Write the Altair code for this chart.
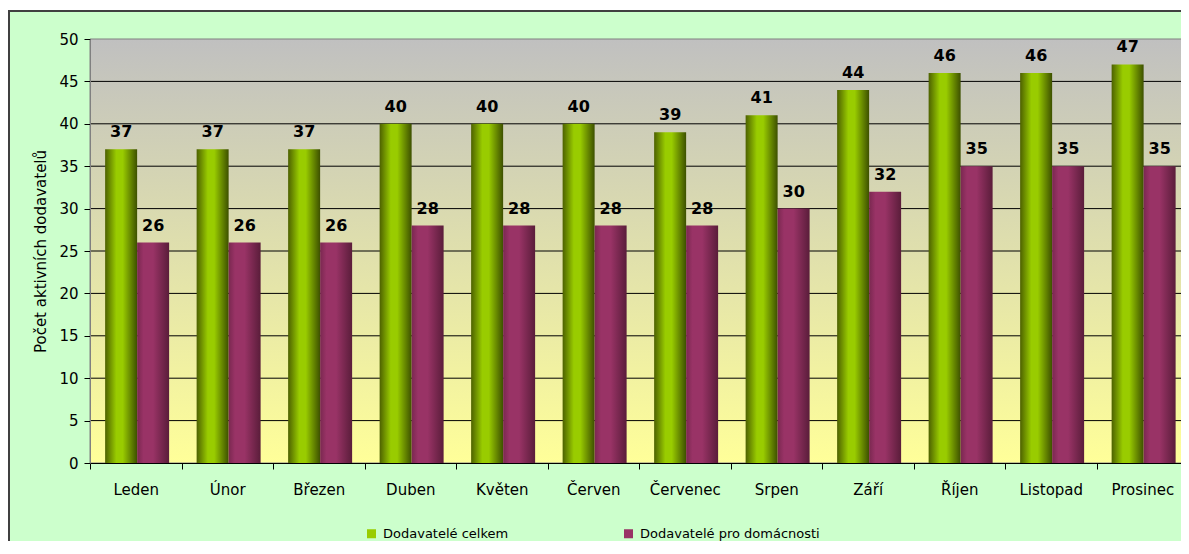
import altair as alt
import pandas as pd

months = ["Leden", "Únor", "Březen", "Duben", "Květen", "Červen",
          "Červenec", "Srpen", "Září", "Říjen", "Listopad", "Prosinec"]
celkem = [37, 37, 37, 40, 40, 40, 39, 41, 44, 46, 46, 47]
domacnosti = [26, 26, 26, 28, 28, 28, 28, 30, 32, 35, 35, 35]
series = ["Dodavatelé celkem", "Dodavatelé pro domácnosti"]
y_ticks = [0, 5, 10, 15, 20, 25, 30, 35, 40, 45, 50]
grid_vals = [5, 10, 15, 20, 25, 30, 35, 40, 45]

W, H = 1091, 424      # visible plot width (page cuts it off at the right)
XR = 1098             # full band range, extends slightly past the visible edge
FONT = "DejaVu Sans"

rows = []
for m, a, b in zip(months, celkem, domacnosti):
    rows.append({"month": m, "series": series[0], "value": a})
    rows.append({"month": m, "series": series[1], "value": b})
df = pd.DataFrame(rows)

x_enc = alt.X("month:N", sort=months,
              scale=alt.Scale(domain=months, paddingInner=0, paddingOuter=0, range=[0, XR]),
              axis=alt.Axis(title=None, tickBand="extent", labelFontSize=15, labelFont=FONT,
                            labelColor="#000000", labelPadding=13, tickSize=6, tickColor="#000000",
                            domainColor="#000000", labelAngle=0, grid=False, zindex=2))
xo_enc = alt.XOffset("series:N", scale=alt.Scale(domain=series, paddingInner=0, paddingOuter=0.43, align=0.55))
y_enc = alt.Y("value:Q", scale=alt.Scale(domain=[0, 50], nice=False),
              axis=alt.Axis(title="Počet aktivních dodavatelů", values=y_ticks, grid=False,
                            labelFontSize=15, labelFont=FONT, labelColor="#000000", labelPadding=6,
                            tickSize=6, tickColor="#000000", domainColor="#808080",
                            titleFont=FONT, titleFontSize=15, titleFontWeight="normal",
                            titleColor="#000000", titlePadding=10, zindex=2))

one = alt.Data(values=[{"k": 1}])

frame = alt.Chart(one).mark_rect(fill="#CCFFCC", stroke="#404040", strokeWidth=2).encode(
    x=alt.value(-81), x2=alt.value(XR + 40), y=alt.value(-28), y2=alt.value(H + 200))

plot_bg = alt.Chart(one).mark_rect(
    stroke="#808080", strokeWidth=1,
    color=alt.Gradient(gradient="linear", x1=0, y1=0, x2=0, y2=1,
                       stops=[alt.GradientStop(offset=0, color="#C0C0C0"),
                              alt.GradientStop(offset=1, color="#FFFF99")])
).encode(x=alt.value(0), x2=alt.value(XR), y=alt.value(0), y2=alt.value(H))

grid = alt.Chart(pd.DataFrame({"v": grid_vals})).mark_rule(color="#000000", strokeWidth=1).encode(
    y=alt.Y("v:Q", scale=alt.Scale(domain=[0, 50], nice=False)),
    x=alt.value(0), x2=alt.value(XR))

green_grad = alt.Gradient(gradient="linear", x1=0, y1=0, x2=1, y2=0, stops=[
    alt.GradientStop(offset=0, color="#4D6100"),
    alt.GradientStop(offset=0.35, color="#99CC00"),
    alt.GradientStop(offset=0.55, color="#99CC00"),
    alt.GradientStop(offset=1, color="#3D5000")])
maroon_grad = alt.Gradient(gradient="linear", x1=0, y1=0, x2=1, y2=0, stops=[
    alt.GradientStop(offset=0, color="#7A2850"),
    alt.GradientStop(offset=0.2, color="#993366"),
    alt.GradientStop(offset=0.5, color="#993366"),
    alt.GradientStop(offset=1, color="#5A1D3A")])

base = alt.Chart(df)
bars1 = base.transform_filter(alt.datum.series == series[0]).mark_bar(color=green_grad).encode(
    x=x_enc, xOffset=xo_enc, y=y_enc)
bars2 = base.transform_filter(alt.datum.series == series[1]).mark_bar(color=maroon_grad).encode(
    x=x_enc, xOffset=xo_enc, y=y_enc)

labels = base.mark_text(font=FONT, fontSize=16, fontWeight="bold", color="#000000",
                        baseline="bottom", dy=-9).encode(
    x=x_enc, xOffset=xo_enc, y=y_enc, text="value:Q")

legend_layer = base.mark_square(clip=True, size=81, opacity=1).encode(
    y=alt.value(-500), x=alt.value(-500),
    color=alt.Color("series:N", scale=alt.Scale(domain=series, range=["#99CC00", "#993366"]),
                    legend=alt.Legend(title=None, orient="none", legendX=275, legendY=488,
                                      direction="horizontal", columnPadding=113, labelOffset=5,
                                      symbolType="square", symbolSize=81, symbolStrokeWidth=0,
                                      labelFont=FONT, labelFontSize=13, labelColor="#000000",
                                      labelLimit=400)))

chart = alt.layer(frame, plot_bg, grid, bars1, bars2, labels, legend_layer).properties(
    width=W, height=H, background="#FFFFFF",
    padding={"left": 82, "top": 31, "right": 0, "bottom": 78},
    autosize=alt.AutoSizeParams(type="none")
).configure_view(stroke=None)

chart.save("out.html", embed_options={"renderer": "svg", "actions": False})
